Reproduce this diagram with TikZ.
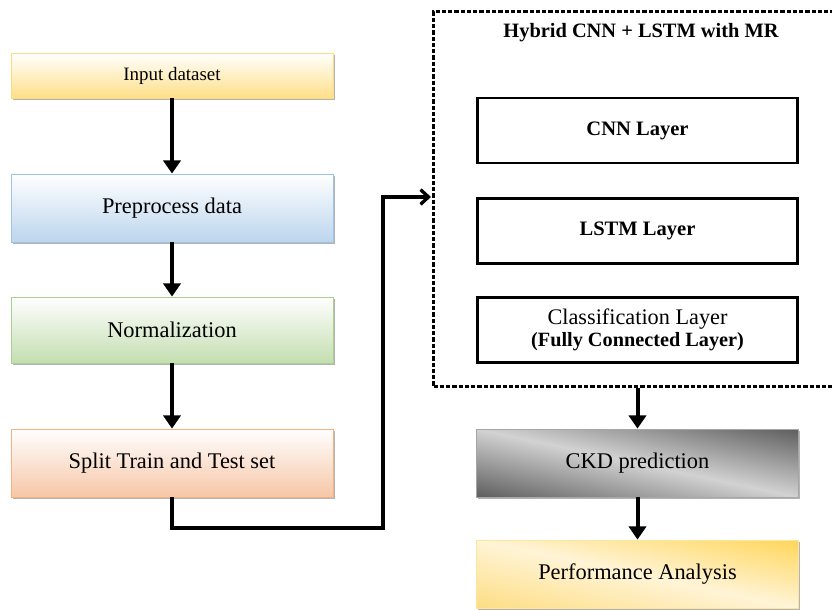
\documentclass[tikz,border=0pt]{standalone}
\usepackage{fontspec}
\setmainfont{Liberation Serif}
\usetikzlibrary{arrows.meta,shadows,calc}
\definecolor{inB}{HTML}{FCDD7E}
\definecolor{inF}{HTML}{FEDF88}
\definecolor{ppB}{HTML}{9DC3E6}
\definecolor{ppF}{HTML}{BCD5EE}
\definecolor{nmB}{HTML}{A9D18E}
\definecolor{nmF}{HTML}{C3DEB0}
\definecolor{spB}{HTML}{F4B183}
\definecolor{spF}{HTML}{F6C6A6}
\definecolor{ckdDark}{HTML}{5E5E5E}
\definecolor{ckdLight}{HTML}{D2D2D2}
\definecolor{pfDark}{HTML}{FFD65A}
\definecolor{pfSide}{HTML}{FDDD84}
\definecolor{pfLight}{HTML}{FFF4D6}
\definecolor{pfB}{HTML}{FCE5A0}
\tikzset{
  shad/.style={drop shadow={shadow xshift=1.2pt, shadow yshift=-1.2pt, opacity=0.6, fill=gray}},
  leftbox/.style={draw=#1, line width=0.6pt, minimum width=241.5pt, rectangle, shad},
  layerbox/.style={draw=black, line width=2pt, fill=white, minimum width=240pt, minimum height=48.5pt, align=center},
  bigtxt/.style={font=\fontsize{16.8}{19.5}\selectfont},
  boldtxt/.style={font=\fontsize{15.4}{19}\selectfont\bfseries},
  flow/.style={line width=3pt, -{Triangle[width=13pt,length=10pt]}},
  entry/.style={line width=3pt, -{Straight Barb[width=11pt,length=6pt,line width=2.5pt]}},
  hybridbox/.style={draw=black, line width=2.4pt, dash pattern=on 3.2pt off 1.5pt, rectangle, anchor=north west,
    minimum width=306pt, minimum height=281pt, inner sep=0pt},
  diagshade/.style n args={3}{path picture={
    \shade[top color=#1, bottom color=#3, middle color=#2,
      transform canvas={rotate around={-12:(path picture bounding box.center)}}]
      ($(path picture bounding box.center)+(-175pt,-50pt)$) rectangle ($(path picture bounding box.center)+(175pt,50pt)$);}}
}
\begin{document}
\begin{tikzpicture}[x=0.75pt, y=-0.75pt]
\useasboundingbox (0,0) rectangle (832,610);
% left column
\node[leftbox=inB, top color=white, bottom color=inF, minimum height=33.75pt,
  font=\fontsize{14.2}{16}\selectfont] (input) at (172,75.5) {Input dataset};
\node[leftbox=ppB, top color=white, bottom color=ppF, minimum height=51pt, bigtxt] (pre) at (172,208) {Preprocess data};
\node[leftbox=nmB, top color=white, bottom color=nmF, minimum height=49.5pt, bigtxt] (norm) at (172,330) {Normalization};
\node[leftbox=spB, top color=white, bottom color=spF, minimum height=51pt, bigtxt] (split) at (172,463) {Split Train and Test set};
\draw[flow] (input) -- (pre);
\draw[flow] (pre) -- (norm);
\draw[flow] (norm) -- (split);
% hybrid box
\node[hybridbox] (hybrid) at (432,10) {};
\node[font=\fontsize{15.3}{18}\selectfont\bfseries] (title) at (641,33) {Hybrid CNN + LSTM with MR};
\node[layerbox, boldtxt] (cnn) at (637.5,130.5) {CNN Layer};
\node[layerbox, boldtxt] (lstm) at (637.5,231) {LSTM Layer};
\node[layerbox, inner sep=0pt] (cls) at (637.5,330) {{\fontsize{16.7}{19.5}\selectfont Classification Layer}\\[1.5pt]{\fontsize{15.2}{18}\selectfont\bfseries (Fully Connected Layer)}};
% right column
\node[draw=gray!70, line width=0.6pt, minimum width=242pt, minimum height=51pt, bigtxt, fill=ckdLight,
  diagshade={ckdDark}{ckdLight}{ckdDark}, shad] (ckd) at (637.5,463) {CKD prediction};
\node[draw=pfB, line width=0.6pt, minimum width=242pt, minimum height=51pt, bigtxt, fill=pfLight,
  diagshade={pfDark}{pfLight}{pfSide}, shad] (perf) at (637.5,574) {Performance Analysis};
\coordinate (turn) at (383,528);
\coordinate (in) at (431,197);
\draw[entry] (split.south) |- (turn) |- (in);
\draw[flow] (hybrid.south -| ckd.north) -- (ckd.north);
\draw[flow] (ckd) -- (perf);
\end{tikzpicture}
\end{document}
